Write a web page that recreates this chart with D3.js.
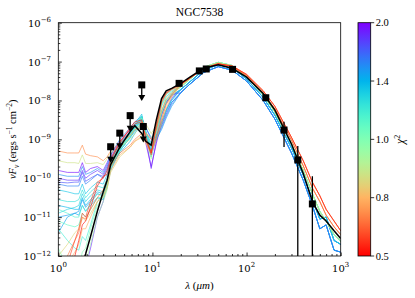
<!DOCTYPE html>
<html>
<head>
<meta charset="utf-8">
<script src="https://cdn.jsdelivr.net/npm/d3@7"></script>
<style>
  body { margin: 0; background: #fff; }
  svg { display: block; }
  text { font-family: "Liberation Serif", "DejaVu Serif", serif; }
</style>
</head>
<body>
<div id="chart"></div>
<script>
// wavelength grid of the model SEDs (micron)
const wavelengths = [1, 1.25, 1.5, 1.65, 1.8, 1.95, 2.2, 2.6, 3.0, 3.3, 3.6, 4.5, 5.8, 6.5, 7.7, 8.5, 9.7, 11, 12.5, 14, 16,
                     20, 25, 35, 50, 70, 100, 150, 200, 300, 400, 500, 600, 700, 850, 1000];

// far-IR parts (log nuFnu, 20 -> 1000 um)
const tailR1 = [-7.58, -7.42, -7.18, -7.06, -7.11, -7.33, -7.75, -8.15, -8.95, -9.55, -10.10, -10.45, -10.80, -11.10, -11.35];
const tailR2 = [-7.60, -7.43, -7.17, -7.05, -7.13, -7.36, -7.80, -8.22, -9.02, -9.68, -10.25, -10.60, -10.95, -11.25, -11.45];
const tailG  = [-7.65, -7.45, -7.15, -7.02, -7.10, -7.40, -7.85, -8.30, -9.12, -9.80, -10.40, -10.85, -11.10, -11.45, -11.62];
const tailB1 = [-7.72, -7.52, -7.22, -7.08, -7.16, -7.45, -7.92, -8.38, -9.22, -9.92, -10.55, -11.05, -11.00, -11.60, -11.70];
const tailB2 = [-7.80, -7.58, -7.28, -7.13, -7.22, -7.50, -8.00, -8.48, -9.35, -10.05, -10.70, -11.30, -11.20, -11.85, -11.90];

// model fits: chi2 and log nuFnu from 1 to 16 um
const models = [
  { chi: 1.95, near: [-9.8, -9.85, -9.85, -9.85, -9.6, -9.85, -9.75, -9.7, -9.8, -9.6, -9.4, -9.05, -8.75, -8.6, -8.5, -9.1, -9.7, -9.1, -8.6, -8.25, -7.95], tail: tailB1 },
  { chi: 1.90, near: [-13.5, -13.5, -13.2, -12.9, -12.5, -12.3, -11.8, -11.0, -10.6, -10.1, -9.65, -9.15, -8.8, -8.65, -8.45, -8.95, -9.75, -9.05, -8.4, -8.05, -7.85], tail: tailB2 },
  { chi: 1.85, near: [-10.0, -10.05, -10.05, -10.05, -9.8, -10.0, -9.9, -9.8, -9.9, -9.7, -9.45, -9.1, -8.8, -8.65, -8.45, -8.7, -9.0, -8.95, -8.65, -8.35, -8.05], tail: tailB2 },
  { chi: 1.75, near: [-10.1, -10.12, -10.1, -10.1, -9.85, -10.08, -10.0, -9.9, -9.95, -9.75, -9.5, -9.1, -8.8, -8.62, -8.42, -8.85, -9.45, -8.95, -8.35, -8.05, -7.88], tail: tailB1 },
  { chi: 1.60, near: [-10.15, -10.2, -10.2, -10.2, -9.95, -10.15, -10.05, -9.9, -10.0, -9.8, -9.5, -9.15, -8.85, -8.7, -8.5, -8.8, -9.2, -9.0, -8.7, -8.4, -8.1], tail: tailB2 },
  { chi: 1.55, near: [-9.9, -9.95, -9.95, -9.95, -9.7, -9.9, -9.85, -9.75, -9.85, -9.65, -9.4, -9.0, -8.7, -8.55, -8.4, -8.85, -9.3, -8.85, -8.35, -8.05, -7.9], tail: tailB1 },
  { chi: 1.50, near: [-11.0, -10.95, -10.9, -10.85, -10.55, -10.75, -10.6, -10.4, -10.45, -10.15, -9.75, -9.3, -8.95, -8.75, -8.5, -8.8, -9.1, -9.0, -8.75, -8.45, -8.15], tail: tailB2 },
  { chi: 1.45, near: [-11.4, -11.0, -10.9, -10.95, -10.7, -10.85, -10.7, -10.5, -10.55, -10.25, -9.8, -9.3, -8.95, -8.8, -8.55, -8.95, -9.35, -9.0, -8.6, -8.3, -8.05], tail: tailB2 },
  { chi: 1.40, near: [-10.7, -10.75, -10.8, -10.8, -10.5, -10.7, -10.55, -10.35, -10.4, -10.1, -9.7, -9.35, -9.05, -8.85, -8.6, -8.7, -8.95, -8.9, -8.55, -8.25, -8.0], tail: tailB1 },
  { chi: 1.35, near: [-10.3, -10.35, -10.4, -10.4, -10.15, -10.4, -10.25, -10.1, -10.15, -9.9, -9.55, -9.15, -8.8, -8.6, -8.35, -8.9, -9.3, -8.8, -8.3, -8.0, -7.85], tail: tailB1 },
  { chi: 1.30, near: [-10.9, -10.8, -10.75, -10.7, -10.4, -10.6, -10.45, -10.3, -10.35, -10.05, -9.65, -9.25, -8.9, -8.7, -8.45, -8.85, -9.25, -8.95, -8.6, -8.25, -7.98], tail: tailB1 },
  { chi: 1.25, near: [-10.55, -10.6, -10.6, -10.55, -10.3, -10.5, -10.35, -10.2, -10.25, -10.0, -9.6, -9.2, -8.85, -8.65, -8.4, -8.95, -9.4, -8.75, -8.15, -7.9, -7.78], tail: tailG },
  { chi: 1.20, near: [-11.3, -11.6, -11.8, -11.85, -11.5, -11.6, -11.2, -10.6, -10.4, -10.1, -9.7, -9.25, -8.85, -8.7, -8.4, -8.9, -9.4, -8.7, -8.1, -7.85, -7.75], tail: tailG },
  { chi: 1.15, near: [-10.8, -10.9, -11.0, -11.0, -10.7, -10.85, -10.65, -10.4, -10.45, -10.15, -9.7, -9.25, -8.9, -8.7, -8.45, -8.8, -9.15, -8.8, -8.3, -8.0, -7.82], tail: tailG },
  { chi: 1.10, near: [-11.1, -11.2, -11.25, -11.2, -10.9, -11.0, -10.8, -10.5, -10.5, -10.2, -9.75, -9.3, -8.95, -8.75, -8.5, -8.85, -9.2, -8.8, -8.3, -8.0, -7.82], tail: tailG },
  { chi: 1.00, near: [-11.8, -12.3, -12.5, -12.3, -11.9, -11.8, -11.3, -10.7, -10.5, -10.2, -9.6, -9.1, -8.8, -8.6, -8.45, -8.95, -9.45, -8.65, -8.05, -7.8, -7.7], tail: tailG },
  { chi: 0.95, near: [-12.5, -13.0, -13.0, -12.8, -12.4, -12.2, -11.7, -11.0, -10.6, -10.3, -9.7, -9.2, -8.9, -8.75, -8.6, -9.0, -9.5, -8.7, -8.1, -7.85, -7.72], tail: tailG },
  { chi: 0.88, near: [-9.55, -9.6, -9.6, -9.62, -9.4, -9.62, -9.62, -9.6, -9.65, -9.5, -9.35, -9.2, -9.0, -8.85, -8.55, -8.6, -8.85, -8.65, -8.3, -8.0, -7.85], tail: tailG },
  { chi: 0.85, near: [-12.0, -11.7, -11.4, -11.3, -11.0, -11.1, -10.9, -10.6, -10.5, -10.25, -9.85, -9.45, -9.2, -9.05, -8.9, -8.85, -8.95, -8.85, -8.45, -8.1, -7.9], tail: tailR2 },
  { chi: 0.78, near: [-12.6, -12.2, -11.9, -11.7, -11.3, -11.3, -11.0, -10.6, -10.45, -10.2, -9.8, -9.4, -9.2, -9.05, -8.95, -9.1, -9.35, -9.0, -8.6, -8.2, -7.9], tail: tailR2 },
  { chi: 0.72, near: [-9.3, -9.35, -9.35, -9.35, -9.15, -9.38, -9.42, -9.45, -9.55, -9.45, -9.3, -9.1, -8.9, -8.75, -8.7, -8.85, -9.0, -8.75, -8.25, -7.95, -7.8], tail: tailR1 },
  { chi: 0.68, near: [-12.3, -12.0, -11.6, -11.4, -11.0, -11.05, -10.8, -10.5, -10.3, -10.05, -9.7, -9.35, -9.15, -9.0, -8.85, -9.05, -9.3, -8.95, -8.5, -8.1, -7.85], tail: tailR1 },
  { chi: 0.60, near: [-12.8, -12.2, -11.6, -11.3, -10.9, -11.0, -10.6, -10.1, -10.0, -9.8, -9.5, -9.05, -8.75, -8.6, -8.55, -9.0, -9.4, -8.7, -8.05, -7.82, -7.72], tail: tailR2 },
  { chi: 0.52, near: [-13.5, -12.8, -12.0, -11.6, -11.2, -11.1, -10.75, -10.2, -9.95, -9.9, -9.55, -9.1, -8.7, -8.55, -8.5, -8.95, -9.35, -8.6, -8.0, -7.8, -7.7], tail: tailR1 }
];

// best fit (black), log nuFnu on the same grid
const bestFit = [-13.5, -13.0, -12.6, -12.45, -12.2, -11.95, -11.5, -10.85, -10.35, -10.05, -9.65, -9.2, -8.8, -8.65, -8.85, -9.05, -9.15, -8.5, -7.95, -7.75, -7.69,
                 -7.56, -7.4, -7.17, -7.08, -7.17, -7.4, -7.82, -8.25, -9.12, -9.88, -10.6, -10.95, -11.1, -11.35, -11.55];

// photometry
const photLambda = [3.6, 4.5, 5.8, 7.7, 8.0, 19.2, 31.5, 37.3, 71, 160, 250, 350, 500];
const photLogF   = [-9.19, -8.84, -8.39, -7.60, -8.67, -7.56, -7.24, -7.19, -7.20, -7.93, -8.76, -9.53, -10.66];
const photUpper  = [true, true, true, true, true, false, false, false, false, false, false, false, false];
const photErr    = [0, 0, 0, 0, 0, 0, 0, 0, 0, 0, 1.1e-9, 3.8e-10, 9e-11];

const xTicks = [1, 10, 100, 1000];
const xTickExp = ["0", "1", "2", "3"];
const yTicks = [1e-12, 1e-11, 1e-10, 1e-9, 1e-8, 1e-7, 1e-6];
const yTickExp = ["-12", "-11", "-10", "-9", "-8", "-7", "-6"];
const cbTicks = [0.5, 0.8, 1.0, 1.4, 2.0];
const cbLabels = ["0.5", "0.8", "1.0", "1.4", "2.0"];

const W = 415, H = 298;
const plot = { left: 58.3, right: 340.7, top: 22.7, bottom: 256 };
const cb = { left: 358, right: 370.7, top: 22.7, bottom: 256 };
const serif = "'Liberation Serif', 'DejaVu Serif', serif";

const svg = d3.select("#chart").append("svg")
  .attr("width", W).attr("height", H);

const x = d3.scaleLog().domain([1, 1000]).range([plot.left, plot.right]);
const y = d3.scaleLog().domain([1e-12, 1e-6]).range([plot.bottom, plot.top]);

// matplotlib "rainbow" colormap
function rainbow(t) {
  const r = Math.min(1, Math.abs(2 * t - 0.5));
  const g = Math.sin(Math.PI * t);
  const b = Math.cos(Math.PI * t / 2);
  return d3.rgb(r * 255, g * 255, b * 255);
}
// colorbar ticks are evenly spaced
const cbPos = d3.scaleLinear().domain(cbTicks).range([0, 0.25, 0.5, 0.75, 1]).clamp(true);
const chiColor = chi => rainbow(1 - cbPos(chi));

svg.append("clipPath").attr("id", "clip")
  .append("rect")
  .attr("x", plot.left).attr("y", plot.top)
  .attr("width", plot.right - plot.left).attr("height", plot.bottom - plot.top);

const line = d3.line()
  .x(d => x(d[0]))
  .y(d => y(Math.pow(10, d[1])));

const gCurves = svg.append("g").attr("clip-path", "url(#clip)");

models.forEach(m => {
  const vals = m.near.concat(m.tail);
  gCurves.append("path")
    .datum(wavelengths.map((l, i) => [l, vals[i]]))
    .attr("d", line)
    .attr("fill", "none")
    .attr("stroke", chiColor(m.chi))
    .attr("stroke-width", 0.7)
    .attr("stroke-opacity", 0.9);
});

gCurves.append("path")
  .datum(wavelengths.map((l, i) => [l, bestFit[i]]))
  .attr("d", line)
  .attr("fill", "none")
  .attr("stroke", "black")
  .attr("stroke-width", 1.5);

// error bars
photLambda.forEach((l, i) => {
  if (!photErr[i]) return;
  const f = Math.pow(10, photLogF[i]);
  const lo = Math.max(f - photErr[i], 1e-14);
  gCurves.append("line")
    .attr("x1", x(l)).attr("x2", x(l))
    .attr("y1", y(f + photErr[i])).attr("y2", y(lo))
    .attr("stroke", "black").attr("stroke-width", 1.3);
});

// upper limit arrows
photLambda.forEach((l, i) => {
  if (!photUpper[i]) return;
  const px = x(l), py = y(Math.pow(10, photLogF[i]));
  svg.append("line")
    .attr("x1", px).attr("x2", px)
    .attr("y1", py).attr("y2", py + 12)
    .attr("stroke", "black").attr("stroke-width", 1.3);
  svg.append("path")
    .attr("d", `M${px - 3.5},${py + 10} L${px + 3.5},${py + 10} L${px},${py + 16} Z`)
    .attr("fill", "black");
});

// squares
svg.append("g").selectAll("rect")
  .data(photLambda.map((l, i) => [l, photLogF[i]]))
  .join("rect")
  .attr("x", d => x(d[0]) - 3.5)
  .attr("y", d => y(Math.pow(10, d[1])) - 3.5)
  .attr("width", 7).attr("height", 7)
  .attr("fill", "black");

// axes
function minorTicks(lo, hi) {
  const out = [];
  for (let e = lo; e < hi; e++) for (let k = 2; k <= 9; k++) out.push(k * Math.pow(10, e));
  return out;
}

const gx = svg.append("g").attr("transform", `translate(0,${plot.bottom})`);
gx.call(d3.axisBottom(x).tickValues(xTicks).tickSize(-3.5).tickFormat(""));
gx.append("g").call(d3.axisBottom(x).tickValues(minorTicks(0, 3)).tickSize(-2).tickFormat(""));
gx.selectAll(".domain").remove();
gx.selectAll("line").attr("stroke", "black").attr("stroke-width", 0.8);

const gy = svg.append("g").attr("transform", `translate(${plot.left},0)`);
gy.call(d3.axisLeft(y).tickValues(yTicks).tickSize(-3.5).tickFormat(""));
gy.append("g").call(d3.axisLeft(y).tickValues(minorTicks(-12, -6)).tickSize(-2).tickFormat(""));
gy.selectAll(".domain").remove();
gy.selectAll("line").attr("stroke", "black").attr("stroke-width", 0.8);

svg.append("rect")
  .attr("x", plot.left).attr("y", plot.top)
  .attr("width", plot.right - plot.left).attr("height", plot.bottom - plot.top)
  .attr("fill", "none").attr("stroke", "black").attr("stroke-width", 0.8);

// tick labels
const tickFont = "'DejaVu Serif', serif";
xTicks.forEach((v, i) => {
  const t = svg.append("text")
    .attr("x", x(v)).attr("y", plot.bottom + 15.5)
    .attr("text-anchor", "middle")
    .style("font-family", tickFont).style("font-size", "10px");
  t.append("tspan").text("10");
  t.append("tspan").attr("dy", -4.5).style("font-size", "7px").text(xTickExp[i]);
});
yTicks.forEach((v, i) => {
  const t = svg.append("text")
    .attr("x", 51).attr("y", y(v) + 4)
    .attr("text-anchor", "end")
    .style("font-family", tickFont).style("font-size", "10px");
  t.append("tspan").text("10");
  t.append("tspan").attr("dy", -4.5).style("font-size", "7px").text(yTickExp[i].replace("-", "\u2212"));
});

// title and axis labels
svg.append("text")
  .attr("x", (plot.left + plot.right) / 2).attr("y", 16)
  .attr("text-anchor", "middle")
  .style("font-family", serif).style("font-size", "11.5px")
  .text("NGC7538");

const xl = svg.append("text")
  .attr("x", (plot.left + plot.right) / 2).attr("y", 289)
  .attr("text-anchor", "middle")
  .style("font-family", serif).style("font-size", "11px");
xl.append("tspan").style("font-style", "italic").text("λ");
xl.append("tspan").text(" (");
xl.append("tspan").style("font-style", "italic").text("μm");
xl.append("tspan").text(")");

const yl = svg.append("text")
  .attr("transform", `translate(16,${(plot.top + plot.bottom) / 2}) rotate(-90)`)
  .attr("text-anchor", "middle")
  .style("font-family", serif).style("font-size", "10.5px");
yl.append("tspan").style("font-style", "italic").text("νF");
yl.append("tspan").attr("dy", 2.5).style("font-size", "7.5px").style("font-style", "italic").text("ν");
yl.append("tspan").attr("dy", -2.5).text(" (ergs s");
yl.append("tspan").attr("dy", -4).style("font-size", "7.5px").text("\u22121");
yl.append("tspan").attr("dy", 4).text(" cm");
yl.append("tspan").attr("dy", -4).style("font-size", "7.5px").text("\u22122");
yl.append("tspan").attr("dy", 4).text(")");

// colorbar
const grad = svg.append("defs").append("linearGradient")
  .attr("id", "cbgrad").attr("x1", 0).attr("y1", 1).attr("x2", 0).attr("y2", 0);
d3.range(0, 1.0001, 0.05).forEach(p => {
  grad.append("stop").attr("offset", p).attr("stop-color", rainbow(1 - p));
});
svg.append("rect")
  .attr("x", cb.left).attr("y", cb.top)
  .attr("width", cb.right - cb.left).attr("height", cb.bottom - cb.top)
  .attr("fill", "url(#cbgrad)").attr("stroke", "black").attr("stroke-width", 0.8);

const cbY = d3.scaleLinear().domain([0, 1]).range([cb.bottom, cb.top]);
cbTicks.forEach((v, i) => {
  const ty = cbY(cbPos(v));
  svg.append("line")
    .attr("x1", cb.right).attr("x2", cb.right + 3.5)
    .attr("y1", ty).attr("y2", ty)
    .attr("stroke", "black").attr("stroke-width", 0.8);
  svg.append("text")
    .attr("x", cb.right + 5).attr("y", ty + 3.5)
    .style("font-family", serif).style("font-size", "10.5px")
    .text(cbLabels[i]);
});

const cl = svg.append("text")
  .attr("transform", `translate(404,${(cb.top + cb.bottom) / 2}) rotate(-90)`)
  .attr("text-anchor", "middle")
  .style("font-family", serif).style("font-size", "11.5px");
cl.append("tspan").style("font-style", "italic").text("χ");
cl.append("tspan").attr("dy", -4).style("font-size", "8px").text("2");
</script>
</body>
</html>
